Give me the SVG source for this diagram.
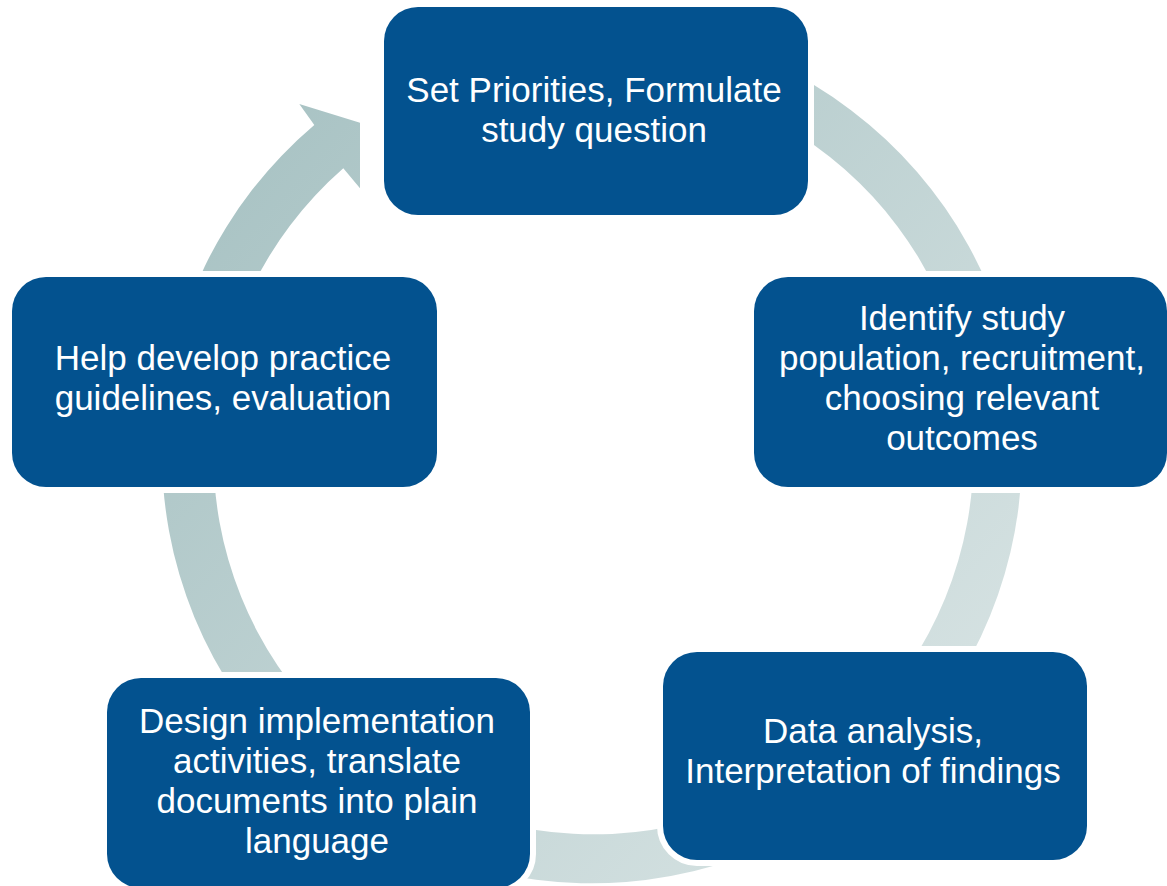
<svg xmlns="http://www.w3.org/2000/svg" width="1167" height="886" viewBox="0 0 1167 886">
  <style>
    .box { fill: #03528f; stroke: #ffffff; stroke-width: 12; paint-order: stroke; }
    .lbl { font-family: "Liberation Sans", Arial, sans-serif; font-size: 35px; fill: #ffffff; text-anchor: middle; }
  </style>
  <defs>
    <linearGradient id="ringGrad" gradientUnits="userSpaceOnUse" x1="200" y1="100" x2="1000" y2="820">
      <stop offset="0" stop-color="#a6c1c2"/>
      <stop offset="1" stop-color="#dae5e5"/>
    </linearGradient>
  </defs>
  <rect x="0" y="0" width="1167" height="886" fill="#ffffff"/>
  <g id="connectors">
    <path id="cycle-arrow" fill="url(#ringGrad)" d="M 814,85.1 A 430 430 0 1 1 314.3,125 L 299.3,104 L 360,122.7 L 360,188.3 L 343.3,168.3 A 380 380 0 1 0 814,144.9 Z"/>
  </g>
  <g id="node-priorities">
    <rect class="box" x="384" y="7" width="424" height="208" rx="34" ry="34"/>
    <text class="lbl" x="594" y="102">Set Priorities, Formulate</text>
    <text class="lbl" x="594" y="142">study question</text>
  </g>
  <g id="node-population">
    <rect class="box" x="754" y="277" width="413" height="210" rx="34" ry="34"/>
    <text class="lbl" x="962" y="330">Identify study</text>
    <text class="lbl" x="962" y="370">population, recruitment,</text>
    <text class="lbl" x="962" y="410">choosing relevant</text>
    <text class="lbl" x="962" y="450">outcomes</text>
  </g>
  <g id="node-analysis">
    <rect class="box" x="663" y="652" width="424" height="208" rx="34" ry="34"/>
    <text class="lbl" x="873" y="743">Data analysis,</text>
    <text class="lbl" x="873" y="783">Interpretation of findings</text>
  </g>
  <g id="node-implementation">
    <rect class="box" x="107" y="678" width="423" height="210" rx="34" ry="34"/>
    <text class="lbl" x="317" y="733">Design implementation</text>
    <text class="lbl" x="317" y="773">activities, translate</text>
    <text class="lbl" x="317" y="813">documents into plain</text>
    <text class="lbl" x="317" y="853">language</text>
  </g>
  <g id="node-guidelines">
    <rect class="box" x="12" y="277" width="425" height="210" rx="34" ry="34"/>
    <text class="lbl" x="223" y="370">Help develop practice</text>
    <text class="lbl" x="223" y="410">guidelines, evaluation</text>
  </g>
</svg>
